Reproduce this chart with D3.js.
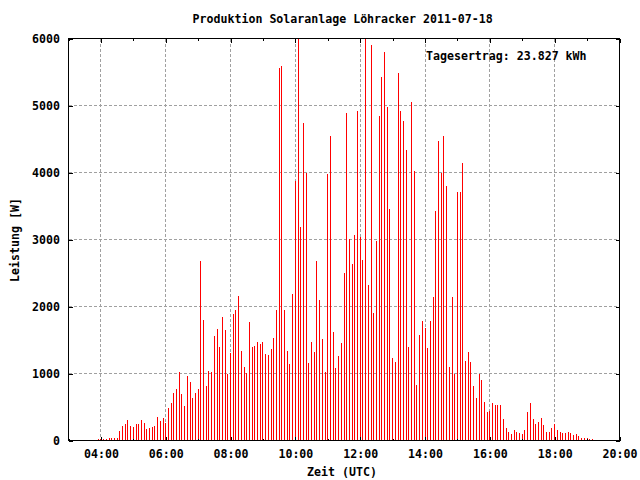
<!DOCTYPE html>
<html>
<head>
<meta charset="utf-8">
<script src="https://cdn.jsdelivr.net/npm/d3@7"></script>
<style>
  html, body { margin: 0; padding: 0; background: #fff; }
  svg { display: block; }
  text { font-family: "DejaVu Sans Mono", "Liberation Mono", monospace; font-weight: bold; font-size: 11.6px; fill: #000; }
</style>
</head>
<body>
<svg id="chart" width="640" height="480"></svg>
<script>
// ---- data ----
const chartTitle = "Produktion Solaranlage Löhracker 2011-07-18";
const xLabel = "Zeit (UTC)";
const yLabel = "Leistung [W]";
const yieldLabel = "Tagesertrag: 23.827 kWh";
const day = "2011-07-18";
const xDomain = ["03:00", "20:00"];
const yDomain = [0, 6000];
const yTicks = [0, 1000, 2000, 3000, 4000, 5000, 6000];

const times = [
  "03:55",
  "04:00","04:05","04:10","04:15","04:20","04:25","04:30","04:35","04:40","04:45","04:50","04:55",
  "05:00","05:05","05:10","05:15","05:20","05:25","05:30","05:35","05:40","05:45","05:50","05:55",
  "06:00","06:05","06:10","06:15","06:20","06:25","06:30","06:35","06:40","06:45","06:50","06:55",
  "07:00","07:05","07:10","07:15","07:20","07:25","07:30","07:35","07:40","07:45","07:50","07:55",
  "08:00","08:05","08:10","08:15","08:20","08:25","08:30","08:35","08:40","08:45","08:50","08:55",
  "09:00","09:05","09:10","09:15","09:20","09:25","09:30","09:35","09:40","09:45","09:50","09:55",
  "10:00","10:05","10:10","10:15","10:20","10:25","10:30","10:35","10:40","10:45","10:50","10:55",
  "11:00","11:05","11:10","11:15","11:20","11:25","11:30","11:35","11:40","11:45","11:50","11:55",
  "12:00","12:05","12:10","12:15","12:20","12:25","12:30","12:35","12:40","12:45","12:50","12:55",
  "13:00","13:05","13:10","13:15","13:20","13:25","13:30","13:35","13:40","13:45","13:50","13:55",
  "14:00","14:05","14:10","14:15","14:20","14:25","14:30","14:35","14:40","14:45","14:50","14:55",
  "15:00","15:05","15:10","15:15","15:20","15:25","15:30","15:35","15:40","15:45","15:50","15:55",
  "16:00","16:05","16:10","16:15","16:20","16:25","16:30","16:35","16:40","16:45","16:50","16:55",
  "17:00","17:05","17:10","17:15","17:20","17:25","17:30","17:35","17:40","17:45","17:50","17:55",
  "18:00","18:05","18:10","18:15","18:20","18:25","18:30","18:35","18:40","18:45","18:50","18:55",
  "19:00","19:05","19:10"
];
const power = [
  20,
  15,15,15,35,35,35,40,140,215,240,310,215,
  200,245,245,305,260,170,190,205,215,350,290,335,
  260,480,560,705,765,1020,690,515,960,870,630,705,
  765,2677,1796,811,1035,1020,1557,1662,1393,1841,1647,990,
  1303,1886,1945,2154,1333,1095,1005,1766,1393,1408,1468,1438,
  1468,1289,1274,1363,1527,1945,5567,5587,1945,1333,1139,2184,
  3871,6100,3184,4736,3990,1154,1468,1318,2677,2095,1512,1020,
  3975,4542,1617,1080,1259,1453,2498,4886,3005,2632,3065,4915,
  3035,2692,6100,2318,5900,1900,2975,4841,5423,5796,4975,3453,
  1229,1169,5483,4915,4766,4333,1393,5050,4020,826,1572,1781,
  1677,1378,1781,2139,3423,4468,3990,4542,3796,1095,2139,990,
  3706,3706,4139,1184,1318,1169,811,632,995,900,570,420,
  438,557,537,530,530,318,190,130,98,154,130,115,
  98,154,423,560,318,250,270,340,225,120,130,190,
  245,160,130,115,110,130,115,80,95,68,35,35,
  35,20,20
];

// ---- chart ----
const parse = t => new Date(day + "T" + t + ":00Z");
const data = times.map((t, i) => ({ t: parse(t), v: power[i] }));

const svg = d3.select("#chart");
const L = 68.5, R = 619.5, T = 38.5, B = 440.5;

const x = d3.scaleUtc().domain(xDomain.map(parse)).range([L, R]);
const y = d3.scaleLinear().domain(yDomain).range([B, T]);

const majorX = x.ticks(d3.utcHour.every(2));
const minorX = x.ticks(d3.utcHour.every(1));

// grid
const grid = svg.append("g").attr("stroke", "#a0a0a0").attr("stroke-width", 1).attr("stroke-dasharray", "3,2").attr("shape-rendering", "crispEdges");
grid.selectAll("line.gx").data(majorX).join("line")
  .attr("x1", d => Math.floor(x(d)) + 0.5).attr("x2", d => Math.floor(x(d)) + 0.5)
  .attr("y1", T).attr("y2", B);
grid.selectAll("line.gy").data(yTicks).join("line")
  .attr("x1", L).attr("x2", R)
  .attr("y1", d => Math.floor(y(d)) + 0.5).attr("y2", d => Math.floor(y(d)) + 0.5);

// clip
svg.append("clipPath").attr("id", "plotclip").append("rect")
  .attr("x", L).attr("y", T).attr("width", R - L).attr("height", B - T);

// impulses
svg.append("g").attr("clip-path", "url(#plotclip)")
  .selectAll("line").data(data).join("line")
  .attr("x1", d => Math.floor(x(d.t)) + 0.5)
  .attr("x2", d => Math.floor(x(d.t)) + 0.5)
  .attr("y1", y(0))
  .attr("y2", d => y(d.v))
  .attr("stroke", "#ff0000")
  .attr("stroke-width", 1)
  .attr("shape-rendering", "crispEdges");

// axes (gnuplot style, inward ticks, mirrored)
const fmt = d3.utcFormat("%H:%M");
function styleAxis(g) {
  g.select(".domain").remove();
  g.selectAll(".tick line").attr("stroke", "#000").attr("shape-rendering", "crispEdges");
  g.selectAll("text").attr("fill", "#000")
    .style("font-family", "'DejaVu Sans Mono', monospace").style("font-weight", "bold").style("font-size", "11.6px");
}
svg.append("g").attr("transform", `translate(0,${B})`)
  .call(d3.axisBottom(x).tickValues(majorX).tickFormat(fmt).tickSize(-4).tickPadding(9.6))
  .call(styleAxis);
svg.append("g").attr("transform", `translate(0,${B})`)
  .call(d3.axisBottom(x).tickValues(minorX.filter(d => d.getUTCHours() % 2 === 1)).tickFormat("").tickSize(-2))
  .call(styleAxis);
svg.append("g").attr("transform", `translate(0,${T})`)
  .call(d3.axisTop(x).tickValues(majorX).tickFormat("").tickSize(-4))
  .call(styleAxis);
svg.append("g").attr("transform", `translate(0,${T})`)
  .call(d3.axisTop(x).tickValues(minorX.filter(d => d.getUTCHours() % 2 === 1)).tickFormat("").tickSize(-2))
  .call(styleAxis);
svg.append("g").attr("transform", `translate(${L},0)`)
  .call(d3.axisLeft(y).tickValues(yTicks).tickFormat(d3.format("d")).tickSize(-4).tickPadding(8.5))
  .call(styleAxis);
svg.append("g").attr("transform", `translate(${R},0)`)
  .call(d3.axisRight(y).tickValues(yTicks).tickFormat("").tickSize(-4))
  .call(styleAxis);

// border
svg.append("rect").attr("x", L).attr("y", T).attr("width", R - L).attr("height", B - T)
  .attr("fill", "none").attr("stroke", "#000").attr("stroke-width", 1).attr("shape-rendering", "crispEdges");

// texts
svg.append("text").attr("x", 342.7).attr("y", 23.3).attr("text-anchor", "middle").text(chartTitle);
svg.append("text").attr("x", 342).attr("y", 476).attr("text-anchor", "middle").text(xLabel);
svg.append("text").attr("transform", "translate(19,240) rotate(-90)").attr("text-anchor", "middle").text(yLabel);
svg.append("text").attr("x", 426).attr("y", 60).attr("text-anchor", "start").text(yieldLabel);
</script>
</body>
</html>
